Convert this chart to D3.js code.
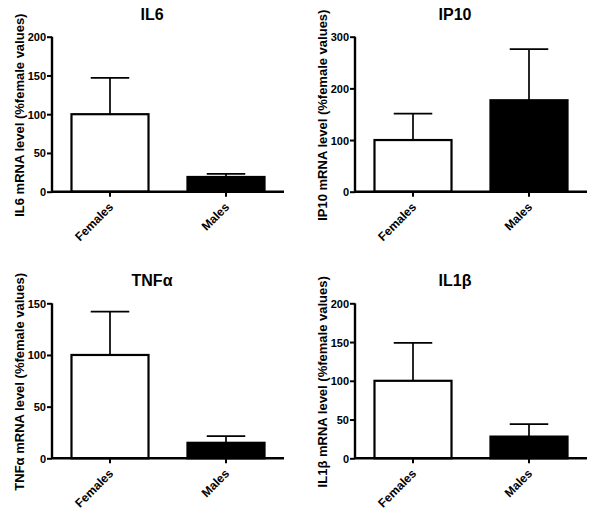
<!DOCTYPE html>
<html>
<head>
<meta charset="utf-8">
<script src="https://cdn.jsdelivr.net/npm/d3@7"></script>
<style>
  html, body { margin: 0; padding: 0; background: #fff; }
  svg { display: block; }
  text { font-family: "Liberation Sans", Arial, Helvetica, sans-serif; font-weight: bold; fill: #000; }
</style>
</head>
<body>
<svg id="chart" width="600" height="519"></svg>
<script>
// ---- data ----
const categories = ["Females", "Males"];
const panelTitles = ["IL6", "IP10", "TNFα", "IL1β"];
const yAxisLabels = [
  "IL6 mRNA level (%female values)",
  "IP10 mRNA level (%female values)",
  "TNFα mRNA level (%female values)",
  "IL1β mRNA level (%female values)"
];
const il6Means = [100, 19];
const il6Errors = [47, 4];
const ip10Means = [100, 177];
const ip10Errors = [51, 99];
const tnfMeans = [100, 15];
const tnfErrors = [42, 6.5];
const il1bMeans = [100, 28];
const il1bErrors = [49, 16];
const yMaxes = [200, 300, 150, 200];
const yTickValues = [
  [0, 50, 100, 150, 200],
  [0, 100, 200, 300],
  [0, 50, 100, 150],
  [0, 50, 100, 150, 200]
];
const barFills = ["#ffffff", "#000000"];

const panelMeans = [il6Means, ip10Means, tnfMeans, il1bMeans];
const panelErrors = [il6Errors, ip10Errors, tnfErrors, il1bErrors];

// ---- layout ----
const svg = d3.select("#chart");
const axisLefts = [52, 355, 52, 355];
const plotTops = [36.7, 36.7, 303.3, 303.3];
const plotHeight = 155;
const plotWidth = 232;

panelTitles.forEach((title, i) => {
  const x0 = axisLefts[i];
  const top = plotTops[i];
  const bottom = top + plotHeight;
  const g = svg.append("g");

  const y = d3.scaleLinear().domain([0, yMaxes[i]]).range([bottom, top]);
  const x = d3.scaleBand().domain(categories).range([x0, x0 + plotWidth])
    .paddingInner(0.336).paddingOuter(0.168);

  const rows = categories.map((c, k) => ({ c, m: panelMeans[i][k], e: panelErrors[i][k], fill: barFills[k] }));

  // error bars
  const eg = g.selectAll(".err").data(rows).enter().append("g");
  eg.append("line")
    .attr("x1", d => x(d.c) + x.bandwidth() / 2)
    .attr("x2", d => x(d.c) + x.bandwidth() / 2)
    .attr("y1", d => y(d.m))
    .attr("y2", d => y(d.m + d.e))
    .attr("stroke", "#000").attr("stroke-width", 1.7);
  eg.append("line")
    .attr("x1", d => x(d.c) + x.bandwidth() / 4)
    .attr("x2", d => x(d.c) + x.bandwidth() * 3 / 4)
    .attr("y1", d => y(d.m + d.e))
    .attr("y2", d => y(d.m + d.e))
    .attr("stroke", "#000").attr("stroke-width", 1.7);

  // bars
  g.selectAll(".bar").data(rows).enter().append("rect")
    .attr("x", d => x(d.c))
    .attr("y", d => y(d.m))
    .attr("width", x.bandwidth())
    .attr("height", d => y(0) - y(d.m))
    .attr("fill", d => d.fill)
    .attr("stroke", "#000")
    .attr("stroke-width", 2.2);

  // y axis
  const ya = g.append("g").attr("transform", `translate(${x0},0)`)
    .call(d3.axisLeft(y).tickValues(yTickValues[i]).tickSize(5).tickPadding(1));
  ya.select(".domain").attr("stroke-width", 2.4).attr("d", `M0,${top}V${bottom}`);
  ya.selectAll(".tick line").attr("stroke-width", 2);
  ya.selectAll(".tick text").style("font-size", "11px").attr("dy", "0.36em");

  // x axis
  const xa = g.append("g").attr("transform", `translate(0,${bottom})`)
    .call(d3.axisBottom(x).tickSize(5).tickFormat(""));
  xa.select(".domain").attr("stroke-width", 2.4).attr("d", `M${x0},0H${x0 + plotWidth}`);
  xa.selectAll(".tick line").attr("stroke-width", 2);

  // category labels rotated
  g.selectAll(".cat").data(categories).enter().append("text")
    .attr("text-anchor", "end")
    .attr("transform", d => `translate(${x(d) + x.bandwidth() / 2 + 4},${bottom + 16}) rotate(-45)`)
    .style("font-size", "12px")
    .text(d => d);

  // title
  g.append("text")
    .attr("x", x0 + 100)
    .attr("y", top - 17)
    .attr("text-anchor", "middle")
    .style("font-size", "16px")
    .text(title);

  // y label
  g.append("text")
    .attr("transform", `translate(${x0 - 28},${(top + bottom) / 2 + 1}) rotate(-90)`)
    .attr("text-anchor", "middle")
    .style("font-size", "13px")
    .text(yAxisLabels[i]);
});
</script>
</body>
</html>
